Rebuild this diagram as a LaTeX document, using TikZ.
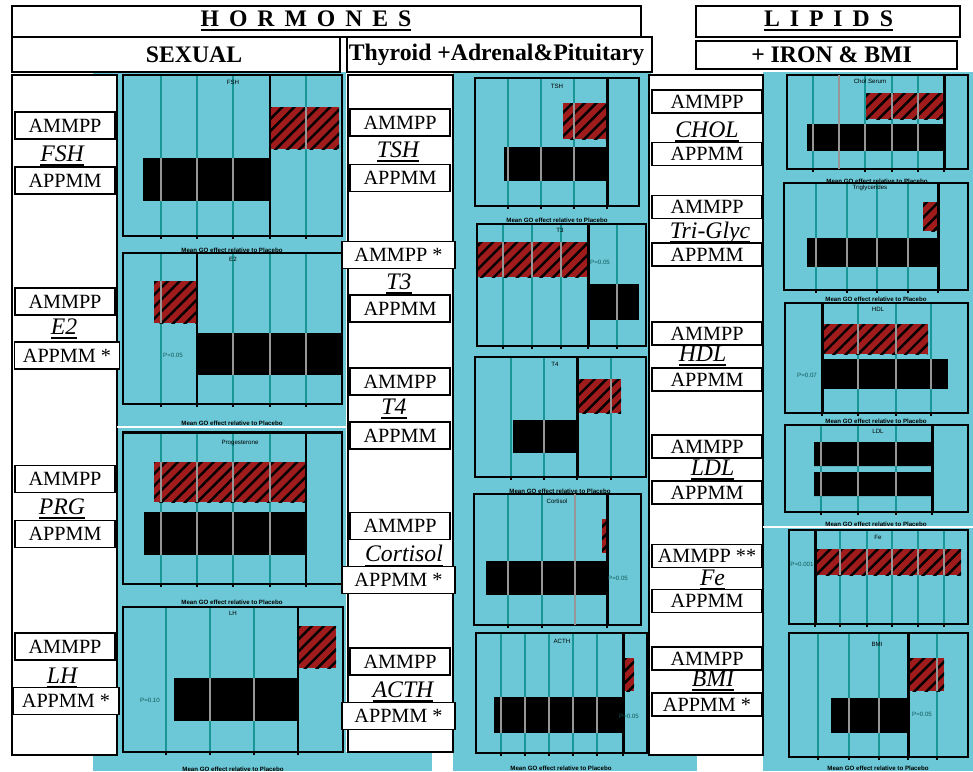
\documentclass[tikz,border=0pt]{standalone}
\usepackage{fontspec}
\setmainfont{Liberation Serif}
\setsansfont{Liberation Sans}
\newfontfamily\spacedfont[LetterSpace=42]{Liberation Serif}
\newcommand{\hul}[1]{\setbox0\hbox{#1}\leavevmode\rlap{\rule[-2.6pt]{\wd0}{1.1pt}}\box0}
\usetikzlibrary{patterns.meta}

\definecolor{panelcyan}{RGB}{108,200,214}
\definecolor{gridteal}{RGB}{25,150,150}
\definecolor{gridgrey}{RGB}{150,150,150}
\definecolor{barred}{RGB}{160,28,28}

\tikzset{
  lab/.style={draw, line width=0.8pt, fill=white, inner sep=0pt,
    minimum width=2cm, minimum height=0.54cm, font=\fontsize{11.5}{12}\selectfont},
  lablip/.style={lab, minimum width=2.2cm, minimum height=0.46cm},
  hname/.style={inner sep=0pt, font=\fontsize{13.5}{14}\selectfont\itshape},
  hbox/.style={draw, line width=0.8pt, inner sep=0pt},
  htext/.style={inner sep=0pt, font=\fontsize{13.5}{14}\selectfont\bfseries},
  gridln/.style={gridteal, line width=0.6pt},
  gridon/.style={gridgrey, line width=0.8pt},
  refln/.style={black, line width=1.7pt},
  frame/.style={black, line width=0.8pt},
  redbar/.style={fill=barred,
    postaction={pattern={Lines[angle=45,distance=4.8pt,line width=1.4pt]}, pattern color=black}},
  blackbar/.style={fill=black},
  tinytitle/.style={inner sep=0pt, font=\sffamily\fontsize{3.5}{4}\selectfont},
  axtitle/.style={inner sep=0pt, font=\sffamily\bfseries\fontsize{3.5}{4}\selectfont},
  pval/.style={inner sep=0pt, text=gridteal!60!black, font=\sffamily\fontsize{3.5}{4}\selectfont},
}

% frame x1 y1 x2 y2, grid lines, reference line, upper bar, lower bar
\newcommand{\barpanel}[8]{%
  \foreach \gx in {#5} \draw[gridln] (\gx,#2) -- (\gx,#4);
  \fill[redbar] #7;
  \fill[blackbar] #8;
  \begin{scope}
    \clip #7 #8;
    \foreach \gx in {#5} \draw[gridon] (\gx,#2) -- (\gx,#4);
  \end{scope}
  \draw[refln] (#6,#2) -- (#6,#4);
  \draw[frame] (#1,#2) rectangle (#3,#4);
  \foreach \gx in {#5,#6} \draw[frame] (\gx,#4) -- ++(0,3);
}

\begin{document}
\begin{tikzpicture}[x=0.02cm, y=-0.02cm]
  \useasboundingbox[fill=white] (0,0) rectangle (973,771);

  % cyan backgrounds
  \fill[panelcyan] (93,72) rectangle (346,771);
  \fill[panelcyan] (340,752) rectangle (432,771);
  \fill[panelcyan] (453,72) rectangle (651,771);
  \fill[panelcyan] (763,72) rectangle (973,771);
  \fill[panelcyan] (645,755) rectangle (697,771);

  % white label columns
  \draw[fill=white, line width=0.8pt] (12,75) rectangle (117,755);
  \draw[fill=white, line width=0.8pt] (348,75) rectangle (453,752);
  \draw[fill=white, line width=0.8pt] (649,75) rectangle (763,755);
  \draw[white, line width=1.2pt] (117,427) -- (346,427);
  \draw[white, line width=1.2pt] (763,527) -- (973,527);

  % sexual hormones
  \barpanel{123}{75}{342}{236}{161,197,233,306}{270}{(270,107) rectangle (339,149)}{(143,158) rectangle (270,201)}
  \barpanel{123}{253}{342}{404}{161,233,270,306}{197}{(154,281) rectangle (197,323)}{(197,333) rectangle (342,375)}
  \barpanel{123}{432}{342}{584}{161,197,233,270}{306}{(154,462) rectangle (306,502)}{(144,512) rectangle (306,555)}
  \barpanel{123}{607}{343}{752}{166,210,254}{298}{(298,626) rectangle (336,668)}{(174,678) rectangle (298,721)}
  \draw[refln] (342,253) -- (342,404);
  \draw[refln] (123,432) -- (342,432);

  % thyroid, adrenal and pituitary
  \barpanel{475}{78}{639}{206}{508,541,574}{607}{(563,103) rectangle (607,139)}{(504,147) rectangle (607,181)}
  \barpanel{477}{224}{646}{346}{503,532,561,617}{588}{(477,242) rectangle (588,277)}{(588,284) rectangle (639,320)}
  \barpanel{475}{357}{646}{477}{511,544,611}{577}{(577,379) rectangle (621,413)}{(513,420) rectangle (577,453)}
  \barpanel{474}{494}{641}{625}{508,542}{607}{(602,519) rectangle (607,553)}{(486,561) rectangle (607,595)}
  \barpanel{476}{633}{647}{753}{501,525,549,573,597}{623}{(623,658) rectangle (634,691)}{(494,697) rectangle (623,733)}
  \draw[gridgrey, line width=1.5pt] (575,494) -- (575,625);

  % lipids, iron and bmi
  \barpanel{787}{75}{968}{169}{813,865,892,918}{944}{(866,93) rectangle (944,119)}{(807,124) rectangle (944,151)}
  \barpanel{784}{183}{968}{290}{816,847,877,908}{938}{(923,202) rectangle (938,231)}{(807,238) rectangle (938,267)}
  \barpanel{785}{303}{968}{413}{858,896,931}{822}{(822,324) rectangle (928,354)}{(822,359) rectangle (948,389)}
  \barpanel{785}{425}{968}{512}{821,858,896}{932}{}{(814,442) rectangle (932,466) (814,472) rectangle (932,496)}
  \barpanel{789}{530}{968}{624}{840,867,892,918,944}{815}{(815,549) rectangle (961,575)}{(815,581) rectangle (817,607)}
  \barpanel{789}{633}{968}{757}{818,849,879,937}{908}{(908,658) rectangle (944,691)}{(831,698) rectangle (908,733)}
  \draw[gridgrey, line width=1.5pt] (839,75) -- (839,169);

  % small chart texts
  \foreach \nm/\tx/\ty/\txt in {fsht/233/82/FSH, e2t/233/259/E2, prgt/240/443/Progesterone,
      lht/233/613/LH, tsht/557/86/TSH, t3t/560/230/T3, t4t/555/364/T4, cortt/557/501/Cortisol,
      actht/562/641/ACTH, cholt/870/81/Chol Serum, trigt/870/188/Triglycerides, hdlt/878/309/HDL,
      ldlt/878/431/LDL, fet/878/537/Fe, bmit/877/644/BMI}
    \node[tinytitle] (\nm) at (\tx,\ty) {\txt};
  \foreach \nm/\tx/\ty in {fshx/232/250, e2x/232/423, prgx/232/602, lhx/233/769, tshx/557/220,
      t4x/560/491, acthx/561/768, cholx/877/181, trigx/876/299, hdlx/876/421, ldlx/876/524, bmix/878/768}
    \node[axtitle] (\nm) at (\tx,\ty) {Mean GO effect relative to Placebo};
  \foreach \nm/\tx/\ty/\txt in {e2p/173/355/P=0.05, lhp/150/700/P=0.10, t3p/600/262/P=0.05,
      cortp/618/578/P=0.05, acthp/629/716/P=0.05, hdlp/807/375/P=0.07, fep/802/564/P=0.001,
      bmip/922/714/P=0.05}
    \node[pval] (\nm) at (\tx,\ty) {\txt};

  % headers
  \node[hbox, minimum width=12.58cm, minimum height=0.62cm] (hormbox) at (326.5,21.5) {};
  \node[htext] (horm) at (306,21) {\spacedfont\bfseries\hul{HORMONES}};
  \node[hbox, minimum width=6.56cm, minimum height=0.7cm] (sexbox) at (176,54.5) {};
  \node[htext] (sex) at (194,55) {SEXUAL};
  \node[hbox, minimum width=6.1cm, minimum height=0.7cm] (thybox) at (499.5,54.5) {};
  \node[htext] (thy) at (496.5,55) {Thyroid +Adrenal\&Pituitary};
  \node[hbox, minimum width=5.28cm, minimum height=0.62cm] (lipbox) at (828,21.5) {};
  \node[htext] (lip) at (828.5,21) {\spacedfont\bfseries\hul{LIPIDS}};
  \node[hbox, minimum width=5.22cm, minimum height=0.56cm] (ironbox) at (826.5,55) {};
  \node[htext] (iron) at (831.5,55) {+ IRON \& BMI};

  % sexual labels
  \node[lab] (fshA) at (65,125.5) {AMMPP};
  \node[lab] (fshB) at (65,180.5) {APPMM};
  \node[hname] (fsh) at (62,156) {\hul{FSH}};
  \node[lab] (e2A) at (65,301.5) {AMMPP};
  \node[lab, minimum width=2.1cm] (e2B) at (67,355.5) {APPMM *};
  \node[hname] (e2) at (64,329) {\hul{E2}};
  \node[lab] (prgA) at (65,479) {AMMPP};
  \node[lab] (prgB) at (65,534) {APPMM};
  \node[hname] (prg) at (62,509) {\hul{PRG}};
  \node[lab] (lhA) at (65,646.5) {AMMPP};
  \node[lab, minimum width=2.12cm] (lhB) at (66,701) {APPMM *};
  \node[hname] (lh) at (62,678) {\hul{LH}};

  % thyroid labels
  \node[lab] (tshA) at (400,122.5) {AMMPP};
  \node[lab] (tshB) at (400,178) {APPMM};
  \node[hname] (tsh) at (398,152) {\hul{TSH}};
  \node[lab, minimum width=2.26cm] (t3A) at (398.5,255) {AMMPP *};
  \node[lab] (t3B) at (400,308.5) {APPMM};
  \node[hname] (t3) at (399,284) {\hul{T3}};
  \node[lab] (t4A) at (400,381.5) {AMMPP};
  \node[lab] (t4B) at (400,435.5) {APPMM};
  \node[hname] (t4) at (394,409) {\hul{T4}};
  \node[lab] (cortA) at (400,526) {AMMPP};
  \node[lab, minimum width=2.26cm] (cortB) at (398.5,580) {APPMM *};
  \node[hname] (cort) at (404,556) {\hul{Cortisol}};
  \node[lab] (acthA) at (400,661.5) {AMMPP};
  \node[lab, minimum width=2.26cm] (acthB) at (398.5,716) {APPMM *};
  \node[hname] (acth) at (403,692) {\hul{ACTH}};

  % lipid labels
  \node[lablip] (cholA) at (707,101.5) {AMMPP};
  \node[lablip] (cholB) at (707,154) {APPMM};
  \node[hname] (chol) at (707,132) {\hul{CHOL}};
  \node[lablip] (trigA) at (707,207) {AMMPP};
  \node[lablip] (trigB) at (707,254.5) {APPMM};
  \node[hname] (trig) at (710,233) {\hul{Tri-Glyc}};
  \node[lablip] (hdlA) at (707,333.5) {AMMPP};
  \node[lablip] (hdlB) at (707,379.5) {APPMM};
  \node[hname] (hdl) at (702.5,356) {\hul{HDL}};
  \node[lablip] (ldlA) at (707,446.5) {AMMPP};
  \node[lablip] (ldlB) at (707,492.5) {APPMM};
  \node[hname] (ldl) at (712.5,470) {\hul{LDL}};
  \node[lablip] (feA) at (707,556) {AMMPP **};
  \node[lablip] (feB) at (707,601) {APPMM};
  \node[hname] (fe) at (712.5,580) {\hul{Fe}};
  \node[lablip] (bmiA) at (707,658.5) {AMMPP};
  \node[lablip] (bmiB) at (707,704.5) {APPMM *};
  \node[hname] (bmi) at (713,681) {\hul{BMI}};
\end{tikzpicture}
\end{document}
